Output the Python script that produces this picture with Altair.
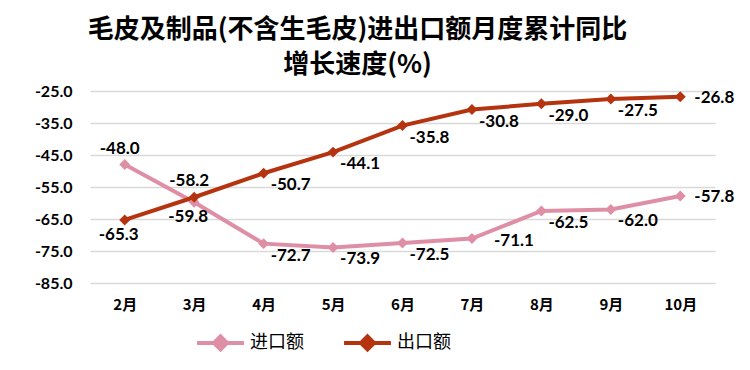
import altair as alt
import pandas as pd

months = ["2月", "3月", "4月", "5月", "6月", "7月", "8月", "9月", "10月"]
import_vals = [-48.0, -59.8, -72.7, -73.9, -72.5, -71.1, -62.5, -62.0, -57.8]
export_vals = [-65.3, -58.2, -50.7, -44.1, -35.8, -30.8, -29.0, -27.5, -26.8]
import_label_pos = ["above", "below", "below-right", "below-right", "below-right", "right2", "below-right", "below-right", "right"]
export_label_pos = ["below", "above", "below-right", "below-right", "below-right", "below-right", "below-right", "below-right", "right"]
series_names = ["进口额", "出口额"]
series_colors = ["#DE8FA6", "#B5340F"]
y_ticks = [-25, -35, -45, -55, -65, -75, -85]

rows = []
for m, v, p in zip(months, import_vals, import_label_pos):
    rows.append({"月份": m, "系列": series_names[0], "值": v, "pos": p, "标签": f"{v:.1f}"})
for m, v, p in zip(months, export_vals, export_label_pos):
    rows.append({"月份": m, "系列": series_names[1], "值": v, "pos": p, "标签": f"{v:.1f}"})
df = pd.DataFrame(rows)

x_enc = alt.X("月份:N", sort=months,
              scale=alt.Scale(type="point", padding=0.5),
              axis=alt.Axis(title=None, labelAngle=0, ticks=False, domain=False,
                            labelFont="Noto Sans CJK SC", labelFontWeight="bold",
                            labelFontSize=15, labelColor="#000000", labelPadding=14,
                            grid=False))
y_enc = alt.Y("值:Q",
              scale=alt.Scale(domain=[-85, -25], nice=False, zero=False),
              axis=alt.Axis(title=None, values=y_ticks, ticks=False,
                            labelExpr="replace(format(datum.value, '.1f'), '\u2212', '-')",
                            domain=False, labelFont="Lato", labelFontWeight="bold",
                            labelFontSize=16, labelColor="#000000", labelPadding=18,
                            gridColor="#D9D9D9", gridWidth=1.5))
color_scale = alt.Scale(domain=series_names, range=series_colors)
color_enc = alt.Color("系列:N", scale=color_scale,
                      legend=alt.Legend(title=None, orient="none", direction="horizontal",
                                        legendX=105, legendY=226,
                                        symbolType="M-1,0H1M0,-0.28L0.28,0L0,0.28L-0.28,0Z",
                                        symbolSize=2200, symbolStrokeWidth=4,
                                        labelFont="Noto Sans CJK SC", labelFontSize=18,
                                        labelColor="#000000", columnPadding=32,
                                        labelOffset=4))

base = alt.Chart(df)
lines = base.mark_line(strokeWidth=4).encode(x=x_enc, y=y_enc, color=color_enc)
points = base.mark_point(shape="diamond", filled=True, size=120, opacity=1).encode(
    x=x_enc, y=y_enc, color=alt.Color("系列:N", scale=color_scale, legend=None))

offsets = {"above": (-5, -16), "below": (-6, 15), "below-right": (27, 12),
           "right": (34, 1), "right2": (42, 2)}
labels = []
for pos, (dx, dy) in offsets.items():
    labels.append(
        base.transform_filter(alt.datum.pos == pos).mark_text(
            dx=dx, dy=dy, font="Lato", fontWeight="bold", fontSize=17,
            color="#000000", align="center", baseline="middle"
        ).encode(x=x_enc, y=y_enc, text="标签:N")
    )

chart = alt.layer(lines, points, *labels).properties(
    width=625, height=192,
    title=alt.TitleParams(text=["毛皮及制品(不含生毛皮)进出口额月度累计同比", "增长速度(%)"],
                          font="Noto Sans CJK SC", fontSize=26, fontWeight="bold",
                          color="#000000", anchor="middle", lineHeight=35,
                          offset=5, dx=-45),
    padding={"left": 26, "top": 9, "right": 5, "bottom": 5},
).configure_view(stroke=None)

chart.save("out.html", embed_options={"renderer": "svg", "actions": False})
